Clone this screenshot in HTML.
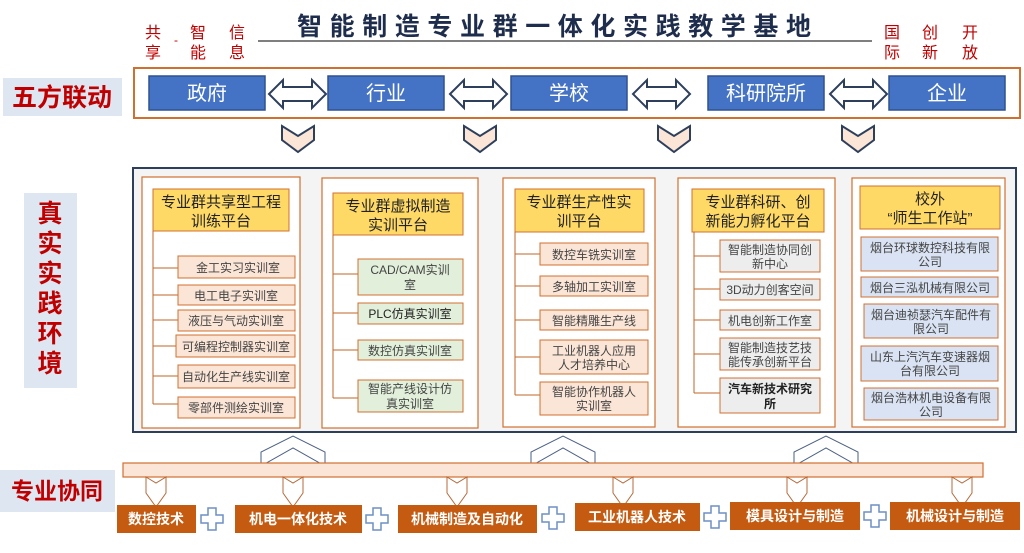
<!DOCTYPE html>
<html><head><meta charset="utf-8"><style>
body{margin:0;background:#fff;}
svg text{font-family:"Liberation Sans","Noto Sans CJK SC",sans-serif;}
</style></head><body>
<svg width="1024" height="548" viewBox="0 0 1024 548" xmlns="http://www.w3.org/2000/svg">
<defs>
<g id="dbl"><path d="M0,16 L14,2 L14,9 L43,9 L43,2 L57,16 L43,30 L43,23 L14,23 L14,30 Z" fill="#fff" stroke="#2e3f5c" stroke-width="2"/></g>
<g id="chv"><path d="M0,0 L16,10 L32,0 L32,14 L16,26 L0,14 Z" fill="#fbe5d6" stroke="#2e3f5c" stroke-width="2"/></g>
<g id="up"><path d="M0,30 L0,16 L32,0 L64,16 L64,30 L32,12 Z" fill="#fff" stroke="#4a5f85" stroke-width="1"/></g>
<g id="dn"><path d="M0,0 L10,6 L20,0 L20,16 L10,30 L0,16 Z" fill="#fff" stroke="#b5693a" stroke-width="1"/></g>
<g id="plus"><path d="M7,0 H15 V7 H22 V15 H15 V22 H7 V15 H0 V7 H7 Z" fill="#fff" stroke="#6f8fc4" stroke-width="1.5"/></g>
</defs>

<!-- title -->
<text x="297" y="35" font-size="25" font-weight="bold" fill="#1f2d4d" letter-spacing="7.6">智能制造专业群一体化实践教学基地</text>
<line x1="258" y1="41" x2="872" y2="41" stroke="#555" stroke-width="1.5"/>
<g fill="#c00000" font-size="16">
<text x="145" y="38">共</text><text x="145" y="58">享</text>
<text x="174" y="44" font-size="12">-</text>
<text x="190" y="38">智</text><text x="190" y="58">能</text>
<text x="229" y="38">信</text><text x="229" y="58">息</text>
<text x="884" y="38">国</text><text x="884" y="58">际</text>
<text x="922" y="38">创</text><text x="922" y="58">新</text>
<text x="962" y="38">开</text><text x="962" y="58">放</text>
</g>

<!-- five parties -->
<rect x="3" y="78" width="119" height="38" fill="#dee6f1"/>
<text x="62" y="106" font-size="25" font-weight="bold" fill="#c00000" text-anchor="middle">五方联动</text>
<rect x="134" y="68" width="886" height="50" fill="#fff" stroke="#d07030" stroke-width="2"/>
<g fill="#4472c4" stroke="#2f528f" stroke-width="1.5">
<rect x="149" y="76" width="116" height="34"/><rect x="328" y="76" width="116" height="34"/>
<rect x="511" y="76" width="116" height="34"/><rect x="708" y="76" width="116" height="34"/>
<rect x="889" y="76" width="116" height="34"/>
</g>
<g fill="#fff" font-size="20" text-anchor="middle">
<text x="207" y="100">政府</text><text x="386" y="100">行业</text><text x="569" y="100">学校</text>
<text x="766" y="100">科研院所</text><text x="947" y="100">企业</text>
</g>
<use href="#dbl" x="269" y="78"/><use href="#dbl" x="450" y="78"/><use href="#dbl" x="633" y="78"/><use href="#dbl" x="830" y="78"/>
<use href="#chv" x="282" y="126"/><use href="#chv" x="464" y="126"/><use href="#chv" x="658" y="126"/><use href="#chv" x="842" y="126"/>

<!-- main area -->
<rect x="24" y="193" width="53" height="195" fill="#dee6f1"/>
<g font-size="25" font-weight="bold" fill="#c00000" text-anchor="middle">
<text x="50" y="222">真</text><text x="50" y="252">实</text><text x="50" y="282">实</text>
<text x="50" y="312">践</text><text x="50" y="342">环</text><text x="50" y="372">境</text>
</g>
<rect x="133" y="168" width="883" height="264" fill="#f4f4f4" stroke="#2e3f5c" stroke-width="2"/>

<g stroke="#d07030" stroke-width="1.2" fill="#fff">
<rect x="142" y="177" width="158" height="251"/><rect x="322" y="178" width="156" height="250"/>
<rect x="503" y="178" width="152" height="249"/><rect x="678" y="178" width="157" height="249"/>
<rect x="852" y="178" width="153" height="249"/>
</g>
<g fill="#ffd966" stroke="#d07030" stroke-width="1">
<rect x="153" y="189" width="136" height="42"/><rect x="333" y="193" width="130" height="42"/>
<rect x="515" y="189" width="129" height="43"/><rect x="692" y="189" width="132" height="43"/>
<rect x="860" y="186" width="140" height="43"/>
</g>
<g font-size="15" fill="#222" text-anchor="middle">
<text x="221" y="207">专业群共享型工程</text><text x="221" y="226">训练平台</text>
<text x="398" y="211">专业群虚拟制造</text><text x="398" y="230">实训平台</text>
<text x="579" y="207">专业群生产性实</text><text x="579" y="226">训平台</text>
<text x="758" y="207">专业群科研、创</text><text x="758" y="226">新能力孵化平台</text>
<text x="930" y="204">校外</text><text x="930" y="223">“师生工作站”</text>
</g>

<!-- tree lines -->
<g stroke="#c0652a" stroke-width="1" fill="none">
<path d="M153,231 V404 M153,268 H178 M153,295 H178 M153,320 H178 M153,346 H178 M153,376 H178 M153,404 H178"/>
<path d="M333,235 V398 M333,274 H358 M333,313 H358 M333,350 H358 M333,398 H358"/>
<path d="M515,232 V395 M515,254 H540 M515,286 H540 M515,320 H540 M515,357 H540 M515,395 H540"/>
<path d="M694,232 V393 M694,256 H720 M694,289 H720 M694,320 H720 M694,354 H720 M694,393 H720"/>
</g>

<g stroke="#d07030" stroke-width="1">
<g fill="#fbe5d6">
<rect x="178" y="256" width="117" height="22"/><rect x="178" y="285" width="117" height="20"/>
<rect x="178" y="310" width="117" height="21"/><rect x="176" y="335" width="119" height="22"/>
<rect x="178" y="365" width="117" height="23"/><rect x="178" y="397" width="117" height="21"/>
<rect x="540" y="243" width="108" height="22"/><rect x="540" y="276" width="108" height="20"/>
<rect x="540" y="310" width="108" height="20"/><rect x="540" y="340" width="108" height="34"/>
<rect x="540" y="382" width="108" height="33"/>
</g>
<g fill="#e2efda">
<rect x="358" y="259" width="105" height="36"/><rect x="358" y="303" width="105" height="21"/>
<rect x="358" y="340" width="105" height="20"/><rect x="358" y="380" width="105" height="32"/>
</g>
<g fill="#ededed">
<rect x="720" y="240" width="100" height="32"/><rect x="720" y="279" width="100" height="21"/>
<rect x="720" y="310" width="100" height="20"/><rect x="720" y="338" width="100" height="32"/>
<rect x="720" y="378" width="100" height="35"/>
</g>
<g fill="#dae3f3">
<rect x="861" y="237" width="137" height="34"/><rect x="861" y="277" width="137" height="20"/>
<rect x="864" y="304" width="134" height="34"/><rect x="861" y="346" width="137" height="35"/>
<rect x="864" y="388" width="134" height="32"/>
</g>
</g>

<g font-size="12" fill="#444" text-anchor="middle">
<text x="238" y="272">金工实习实训室</text><text x="236" y="300">电工电子实训室</text>
<text x="236" y="325">液压与气动实训室</text><text x="236" y="351">可编程控制器实训室</text>
<text x="236" y="381">自动化生产线实训室</text><text x="236" y="412">零部件测绘实训室</text>
<text x="410" y="274">CAD/CAM实训</text><text x="410" y="289">室</text>
<text x="410" y="318" fill="#222">PLC仿真实训室</text><text x="410" y="355">数控仿真实训室</text>
<text x="410" y="393">智能产线设计仿</text><text x="410" y="408">真实训室</text>
<text x="594" y="259">数控车铣实训室</text><text x="594" y="291">多轴加工实训室</text>
<text x="594" y="325">智能精雕生产线</text>
<text x="594" y="355">工业机器人应用</text><text x="594" y="369">人才培养中心</text>
<text x="594" y="396">智能协作机器人</text><text x="594" y="410">实训室</text>
<text x="770" y="254">智能制造协同创</text><text x="770" y="268">新中心</text>
<text x="770" y="294">3D动力创客空间</text><text x="770" y="325">机电创新工作室</text>
<text x="770" y="352">智能制造技艺技</text><text x="770" y="366">能传承创新平台</text>
<text x="770" y="393" font-weight="bold" fill="#222">汽车新技术研究</text><text x="770" y="408" font-weight="bold" fill="#222">所</text>
<text x="930" y="252">烟台环球数控科技有限</text><text x="930" y="266">公司</text>
<text x="930" y="292">烟台三泓机械有限公司</text>
<text x="931" y="319">烟台迪祯瑟汽车配件有</text><text x="931" y="333">限公司</text>
<text x="930" y="361">山东上汽汽车变速器烟</text><text x="930" y="375">台有限公司</text>
<text x="931" y="402">烟台浩林机电设备有限</text><text x="931" y="416">公司</text>
</g>

<!-- bottom -->
<use href="#up" x="261" y="436"/><use href="#up" x="531" y="436"/><use href="#up" x="794" y="436"/>
<rect x="123" y="463" width="860" height="14" fill="#fbe5d6" stroke="#d07030" stroke-width="1.2"/>
<rect x="0" y="470" width="115" height="42" fill="#dee6f1"/>
<text x="57" y="499" font-size="23" font-weight="bold" fill="#c00000" text-anchor="middle">专业协同</text>
<use href="#dn" x="146" y="477"/><use href="#dn" x="283" y="477"/><use href="#dn" x="447" y="477"/>
<use href="#dn" x="613" y="477"/><use href="#dn" x="787" y="477"/><use href="#dn" x="952" y="477"/>
<g fill="#c55a11">
<rect x="117" y="505" width="79" height="28"/><rect x="235" y="505" width="127" height="28"/>
<rect x="398" y="505" width="139" height="28"/><rect x="575" y="503" width="125" height="28"/>
<rect x="730" y="502" width="130" height="28"/><rect x="890" y="502" width="130" height="28"/>
</g>
<g fill="#fff" font-size="14" font-weight="bold" text-anchor="middle">
<text x="156" y="524">数控技术</text><text x="298" y="524">机电一体化技术</text>
<text x="467" y="524">机械制造及自动化</text><text x="637" y="522">工业机器人技术</text>
<text x="795" y="521">模具设计与制造</text><text x="955" y="521">机械设计与制造</text>
</g>
<use href="#plus" x="201" y="508"/><use href="#plus" x="366" y="508"/><use href="#plus" x="542" y="507"/>
<use href="#plus" x="704" y="506"/><use href="#plus" x="864" y="505"/>
</svg>
</body></html>
